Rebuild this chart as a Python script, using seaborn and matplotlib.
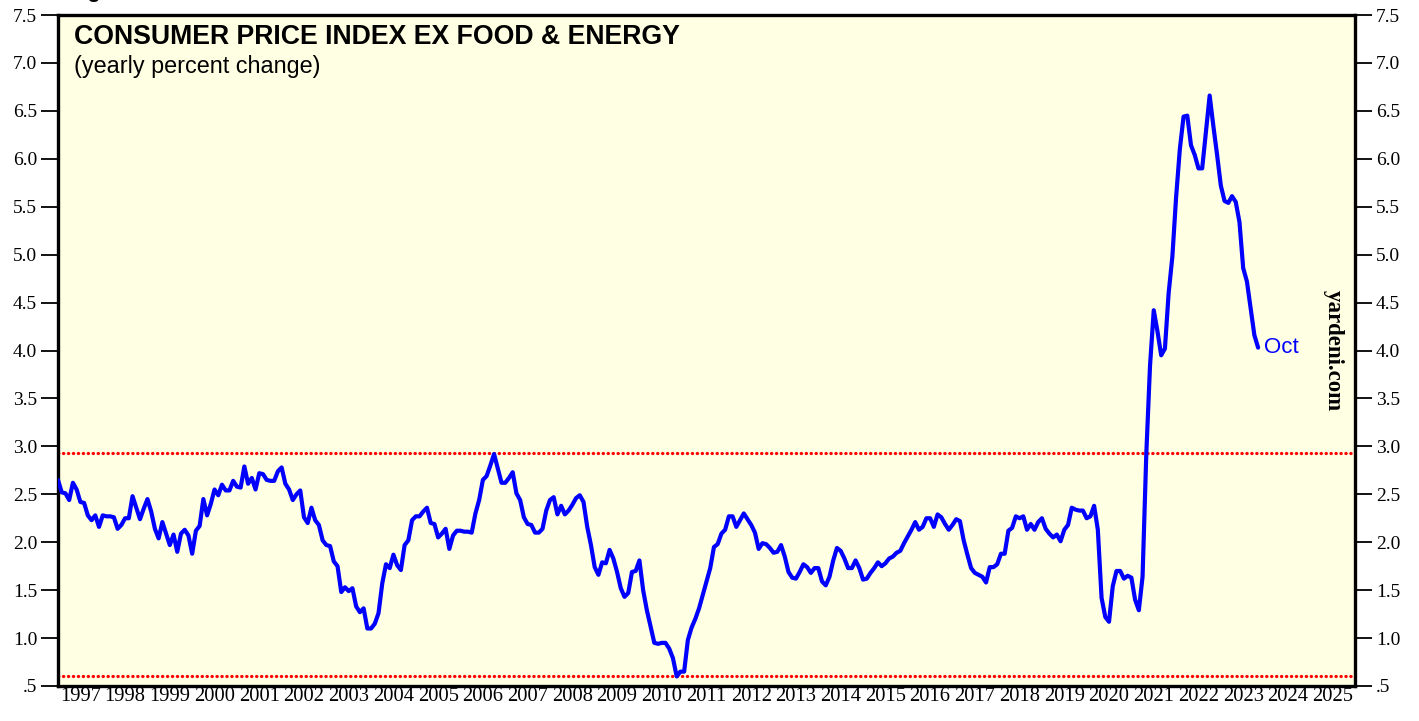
import numpy as np
import pandas as pd
import matplotlib
matplotlib.use("Agg")
import matplotlib.pyplot as plt
import seaborn as sns
from matplotlib.ticker import FixedLocator, NullFormatter, FixedFormatter

# ---- data: core CPI, yearly % change, monthly from Dec 1996 to Oct 2023 ----
start_year, start_month = 1996, 12
cpi_1997_2001 = [2.65,
    2.52, 2.51, 2.44, 2.62, 2.55, 2.42, 2.41, 2.28, 2.23, 2.28, 2.16, 2.28,
    2.27, 2.27, 2.26, 2.14, 2.18, 2.25, 2.25, 2.48, 2.36, 2.24, 2.35, 2.45,
    2.32, 2.14, 2.04, 2.21, 2.09, 1.97, 2.08, 1.90, 2.09, 2.13, 2.07, 1.88,
    2.12, 2.17, 2.45, 2.28, 2.40, 2.55, 2.49, 2.60, 2.54, 2.54, 2.64, 2.58,
    2.57, 2.79, 2.61, 2.67, 2.55, 2.72, 2.71, 2.65, 2.64, 2.64, 2.74, 2.78]
cpi_2002_2006 = [
    2.61, 2.55, 2.44, 2.50, 2.54, 2.26, 2.20, 2.36, 2.23, 2.18, 2.02, 1.97,
    1.96, 1.80, 1.75, 1.48, 1.53, 1.49, 1.52, 1.33, 1.27, 1.31, 1.10, 1.10,
    1.15, 1.26, 1.57, 1.77, 1.73, 1.87, 1.76, 1.71, 1.97, 2.02, 2.23, 2.27,
    2.27, 2.32, 2.36, 2.20, 2.19, 2.05, 2.09, 2.14, 1.93, 2.07, 2.12, 2.12,
    2.11, 2.11, 2.10, 2.30, 2.44, 2.65, 2.69, 2.80, 2.92, 2.77, 2.62, 2.62]
cpi_2007_2011 = [
    2.67, 2.73, 2.51, 2.44, 2.26, 2.19, 2.18, 2.10, 2.10, 2.14, 2.33, 2.44,
    2.47, 2.29, 2.38, 2.29, 2.33, 2.39, 2.46, 2.49, 2.42, 2.16, 1.97, 1.74,
    1.66, 1.79, 1.78, 1.92, 1.83, 1.69, 1.52, 1.43, 1.47, 1.69, 1.70, 1.81,
    1.50, 1.29, 1.12, 0.95, 0.94, 0.95, 0.95, 0.89, 0.79, 0.60, 0.65, 0.65,
    0.98, 1.11, 1.20, 1.31, 1.45, 1.59, 1.73, 1.95, 1.98, 2.09, 2.13, 2.27]
cpi_2012_2016 = [
    2.27, 2.16, 2.23, 2.30, 2.24, 2.18, 2.10, 1.93, 1.99, 1.98, 1.94, 1.89,
    1.90, 1.97, 1.85, 1.69, 1.63, 1.62, 1.69, 1.77, 1.74, 1.68, 1.73, 1.73,
    1.59, 1.55, 1.64, 1.81, 1.94, 1.91, 1.83, 1.73, 1.73, 1.81, 1.73, 1.61,
    1.62, 1.68, 1.73, 1.79, 1.75, 1.78, 1.83, 1.85, 1.89, 1.91, 1.99, 2.06,
    2.13, 2.21, 2.13, 2.16, 2.25, 2.25, 2.16, 2.29, 2.26, 2.19, 2.13, 2.18]
cpi_2017_2023 = [
    2.24, 2.22, 2.02, 1.87, 1.73, 1.68, 1.66, 1.64, 1.58, 1.74, 1.74, 1.77,
    1.88, 1.88, 2.12, 2.15, 2.27, 2.25, 2.27, 2.13, 2.19, 2.13, 2.21, 2.25,
    2.14, 2.09, 2.05, 2.08, 2.01, 2.13, 2.18, 2.36, 2.34, 2.33, 2.33, 2.25,
    2.27, 2.38, 2.13, 1.42, 1.22, 1.17, 1.54, 1.70, 1.70, 1.62, 1.65, 1.63,
    1.40, 1.29, 1.64, 2.92, 3.84, 4.42, 4.20, 3.95, 4.02, 4.60, 4.98, 5.60,
    6.10, 6.44, 6.45, 6.14, 6.04, 5.90, 5.90, 6.28, 6.66, 6.34, 6.04, 5.72,
    5.56, 5.54, 5.61, 5.55, 5.34, 4.86, 4.72, 4.44, 4.16, 4.03]
ref_high = 2.93
ref_low = 0.60
last_label = "Oct"
year_labels = [str(y) for y in range(1997, 2026)]
y_ticks = [0.5, 1.0, 1.5, 2.0, 2.5, 3.0, 3.5, 4.0, 4.5, 5.0, 5.5, 6.0, 6.5, 7.0, 7.5]
y_labels = [".5", "1.0", "1.5", "2.0", "2.5", "3.0", "3.5", "4.0", "4.5",
            "5.0", "5.5", "6.0", "6.5", "7.0", "7.5"]

values = cpi_1997_2001 + cpi_2002_2006 + cpi_2007_2011 + cpi_2012_2016 + cpi_2017_2023
n = len(values)
month_idx = np.arange(n)
years = start_year + (start_month + month_idx) / 12.0  # plotted at month end
df = pd.DataFrame({"year": years, "cpi": values})

# ---- figure ----
sns.set_style("white")
plt.rcParams["font.family"] = ["Liberation Serif", "DejaVu Serif"]
plt.rcParams["text.color"] = "black"
plt.rcParams["xtick.color"] = "black"
plt.rcParams["ytick.color"] = "black"
fig = plt.figure(figsize=(14.19, 7.21), dpi=100)
ax = fig.add_axes([58 / 1419, 1 - 686 / 721, (1355 - 58) / 1419, (686 - 15) / 721])
ax.set_facecolor("#FFFFE3")

dot = (0, (0.1, 1.45))
ax.axhline(ref_high, color="#FF0000", lw=2.3, ls=dot, dash_capstyle="round", zorder=2)
ax.axhline(ref_low, color="#FF0000", lw=2.3, ls=dot, dash_capstyle="round", zorder=2)

sns.lineplot(data=df, x="year", y="cpi", ax=ax, color="#0000FF", lw=3.0, zorder=3)

ax.set_xlim(1997, 2026)
ax.set_ylim(0.5, 7.5)
ax.set_xlabel("")
ax.set_ylabel("")

for s in ax.spines.values():
    s.set_linewidth(2.4)
    s.set_color("black")

# x axis: year boundaries as ticks, labels centered between
ax.xaxis.set_major_locator(FixedLocator(np.arange(1997, 2027)))
ax.xaxis.set_major_formatter(NullFormatter())
ax.xaxis.set_minor_locator(FixedLocator(np.arange(1997, 2026) + 0.5))
ax.xaxis.set_minor_formatter(FixedFormatter(year_labels))
ax.tick_params(axis="x", which="major", direction="out", length=9, width=2.0, color="black")
ax.tick_params(axis="x", which="minor", length=0, labelsize=14.8, pad=1, labelcolor="black")

ax.yaxis.set_major_locator(FixedLocator(y_ticks))
ax.yaxis.set_major_formatter(FixedFormatter(y_labels))
ax.tick_params(axis="y", which="major", direction="out", length=12, width=1.3,
               labelsize=14, left=True, right=True, labelleft=True, labelright=True,
               pad=3, labelcolor="black")

ax.text(0.012, 0.986, "CONSUMER PRICE INDEX EX FOOD & ENERGY", transform=ax.transAxes,
        family=["Liberation Sans", "DejaVu Sans"], fontweight="bold", fontsize=19.2,
        va="top", ha="left", color="black")
ax.text(0.012, 0.94, "(yearly percent change)", transform=ax.transAxes,
        family=["Liberation Sans", "DejaVu Sans"], fontsize=16.8, va="top", ha="left",
        color="black")

ax.annotate(last_label, xy=(df["year"].iloc[-1], df["cpi"].iloc[-1]), xytext=(4, 0),
            textcoords="offset points", color="#0000FF", fontsize=16,
            family=["Liberation Sans", "DejaVu Sans"], va="center", ha="left")

ax.text(0.983, 0.50, "yardeni.com", transform=ax.transAxes, rotation=270,
        fontweight="bold", fontsize=16.5, va="center", ha="center", color="black")

fig.text(70 / 1419, 1.0 + 2 / 721, "Figure", fontweight="bold", fontsize=15,
         family=["Liberation Sans", "DejaVu Sans"], va="baseline", ha="left", color="black")

fig.savefig("out.png", dpi=100, facecolor="white")
